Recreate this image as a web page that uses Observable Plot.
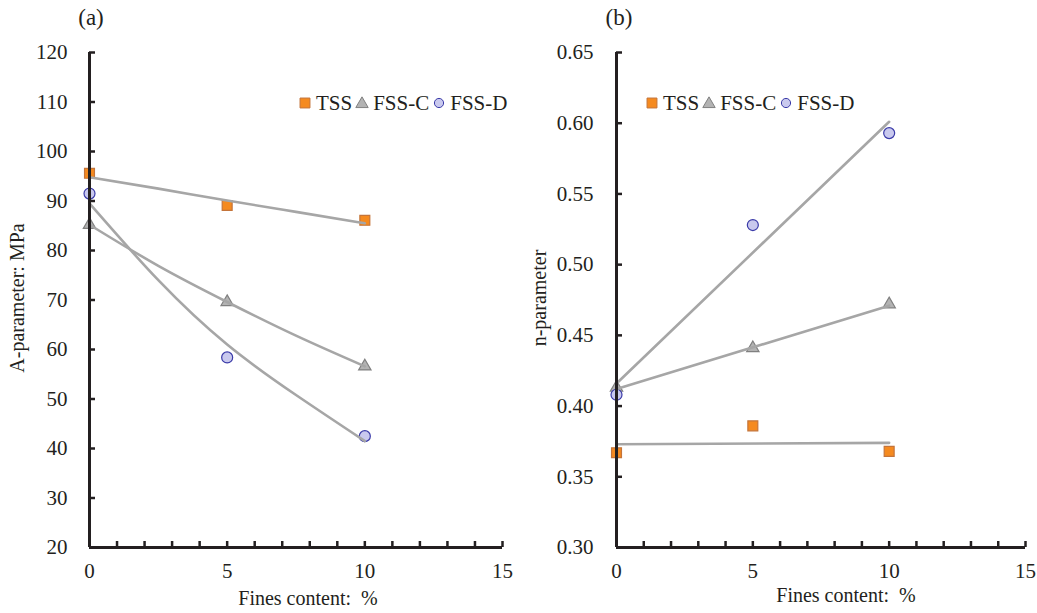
<!DOCTYPE html>
<html>
<head>
<meta charset="utf-8">
<script src="https://cdn.jsdelivr.net/npm/d3@7"></script>
<script src="https://cdn.jsdelivr.net/npm/@observablehq/plot@0.6"></script>
<style>
  body { margin: 0; background: #fff; }
  #wrap { position: relative; width: 1037px; height: 613px; font-family: "Liberation Serif", "Times New Roman", serif; color: #231f20; }
  #wrap svg text { font-family: "Liberation Serif", "Times New Roman", serif; }
  .abs { position: absolute; white-space: pre; font-size: 20px; line-height: 20px; }
  .legend { position: absolute; display: flex; align-items: center; font-size: 21px; line-height: 24px; white-space: pre; }
  .legend svg { display: block; }
</style>
</head>
<body>
<div id="wrap"></div>
<script>
// ---- data ----
const fines = [0, 5, 10];
const seriesNames = ["TSS", "FSS-C", "FSS-D"];

// Panel (a): A-parameter (MPa)
const aTSS  = [95.6, 89.1, 86.1];
const aFSSC = [85.2, 69.6, 56.6];
const aFSSD = [91.5, 58.4, 42.5];
// trendlines
const aTrendX    = [0, 2.5, 5, 7.5, 10];
const aTrendTSS  = [94.8, 92.5, 90.1, 87.8, 85.5];
const aTrendFSSC = [85.2, 76.9, 69.6, 62.8, 56.6];
const aTrendFSSD = [89.5, 74.0, 61.0, 50.8, 41.5];

// Panel (b): n-parameter
const nTSS  = [0.367, 0.386, 0.368];
const nFSSC = [0.413, 0.441, 0.472];
const nFSSD = [0.408, 0.528, 0.593];
const nTrendX    = [0, 10];
const nTrendTSS  = [0.373, 0.374];
const nTrendFSSC = [0.412, 0.471];
const nTrendFSSD = [0.416, 0.601];

// ticks
const xMajorTicks = [0, 5, 10, 15];
const xMinorTicks = [1, 2, 3, 4, 5, 6, 7, 8, 9, 10, 11, 12, 13, 14, 15];
const aTicks = [20, 30, 40, 50, 60, 70, 80, 90, 100, 110, 120];
const nTicks = [0.30, 0.35, 0.40, 0.45, 0.50, 0.55, 0.60, 0.65];

// ---- styles ----
const FONT = "'Liberation Serif', 'Times New Roman', serif";
const styles = {
  "TSS":   {symbol: "square",   fill: "#f58a1f", stroke: "#c4743a", r: 5.6},
  "FSS-C": {symbol: "triangle", fill: "#b3b3b3", stroke: "#808080", r: 4.6},
  "FSS-D": {symbol: "circle",   fill: "#c9c9ee", stroke: "#3a3aa8", r: 5.5}
};
const trendColor = "#a6a6a6";

function pts(xs, ys, name) { return xs.map((x, i) => ({x, y: ys[i], s: name})); }

function makePanel({width, marginLeft, marginRight, yDomain, yTicks, yFormat, series, trends, tickPad}) {
  const marks = [];
  for (const [name, data] of series) {
    const st = styles[name];
    marks.push(Plot.dot(data, {x: "x", y: "y", symbol: st.symbol, fill: st.fill, stroke: st.stroke, strokeWidth: 1.2, r: st.r}));
  }
  for (const data of trends) {
    marks.push(Plot.line(data, {x: "x", y: "y", stroke: trendColor, strokeWidth: 2.6, curve: "natural"}));
  }
  marks.push(Plot.axisY({ticks: yTicks, tickFormat: yFormat, tickSize: -6, tickPadding: tickPad, strokeWidth: 2.5, fontSize: 21, fontFamily: FONT, label: null}));
  marks.push(Plot.axisX({ticks: xMinorTicks, tickFormat: () => "", tickSize: -6, strokeWidth: 2.5, label: null}));
  marks.push(Plot.axisX({ticks: xMajorTicks, tickSize: 0, tickPadding: 16, fontSize: 21, fontFamily: FONT, label: null}));
  marks.push(Plot.ruleX([0], {stroke: "#231f20", strokeWidth: 3}));
  marks.push(Plot.ruleY([yDomain[0]], {stroke: "#231f20", strokeWidth: 3}));
  return Plot.plot({
    width, height: 613,
    marginLeft, marginRight, marginTop: 52, marginBottom: 66,
    style: {fontFamily: FONT, color: "#231f20", background: "transparent", overflow: "visible"},
    x: {domain: [0, 15]},
    y: {domain: yDomain},
    marks
  });
}

const wrap = document.getElementById("wrap");

const left = makePanel({
  width: 520, marginLeft: 89, marginRight: 18,
  yDomain: [20, 120], yTicks: aTicks, yFormat: d => String(d), tickPad: 28,
  series: [["TSS", pts(fines, aTSS, "TSS")], ["FSS-C", pts(fines, aFSSC, "FSS-C")], ["FSS-D", pts(fines, aFSSD, "FSS-D")]],
  trends: [pts(aTrendX, aTrendTSS, "TSS"), pts(aTrendX, aTrendFSSC, "FSS-C"), pts(aTrendX, aTrendFSSD, "FSS-D")]
});
left.style.position = "absolute"; left.style.left = "0px"; left.style.top = "0px";
wrap.appendChild(left);

const right = makePanel({
  width: 517, marginLeft: 96, marginRight: 12,
  yDomain: [0.30, 0.65], yTicks: nTicks, yFormat: d3.format(".2f"), tickPad: 29,
  series: [["TSS", pts(fines, nTSS, "TSS")], ["FSS-C", pts(fines, nFSSC, "FSS-C")], ["FSS-D", pts(fines, nFSSD, "FSS-D")]],
  trends: [pts(nTrendX, nTrendTSS, "TSS"), pts(nTrendX, nTrendFSSC, "FSS-C"), pts(nTrendX, nTrendFSSD, "FSS-D")]
});
right.style.position = "absolute"; right.style.left = "520px"; right.style.top = "0px";
wrap.appendChild(right);

function addText(txt, x, y, rotate, size) {
  const d = document.createElement("div");
  d.className = "abs";
  d.textContent = txt;
  d.style.left = x + "px"; d.style.top = y + "px";
  if (size) { d.style.fontSize = size + "px"; d.style.lineHeight = size + "px"; }
  d.style.transform = "translate(-50%, -50%)" + (rotate ? " rotate(-90deg)" : "");
  wrap.appendChild(d);
}
addText("(a)", 91, 17, false, 23);
addText("(b)", 619, 17, false, 23);
addText("Fines content:  %", 308, 598);
addText("Fines content:  %", 846, 595);
addText("A-parameter: MPa", 17, 298, true);
addText("n-parameter", 539, 298, true);

function symbolSvg(name) {
  const st = styles[name];
  const size = 14;
  const svg = d3.create("svg").attr("width", size).attr("height", size);
  const sym = {square: d3.symbolSquare, triangle: d3.symbolTriangle, circle: d3.symbolCircle}[st.symbol];
  svg.append("path")
    .attr("transform", `translate(${size/2},${size/2 + (st.symbol === "triangle" ? 1 : 0)})`)
    .attr("d", d3.symbol(sym, Math.PI * st.r * st.r * (st.symbol === "circle" ? 0.7 : 1))())
    .attr("fill", st.fill).attr("stroke", st.stroke).attr("stroke-width", 1);
  return svg.node();
}
function addLegend(x, y) {
  const d = document.createElement("div");
  d.className = "legend";
  d.style.left = x + "px"; d.style.top = y + "px";
  seriesNames.forEach((n, i) => {
    const s = symbolSvg(n);
    s.style.marginRight = "4px";
    d.appendChild(s);
    const t = document.createElement("span");
    t.textContent = n;
    t.style.marginRight = i < seriesNames.length - 1 ? "3px" : "0";
    d.appendChild(t);
  });
  wrap.appendChild(d);
}
addLegend(298, 91);
addLegend(645, 91);
</script>
</body>
</html>
